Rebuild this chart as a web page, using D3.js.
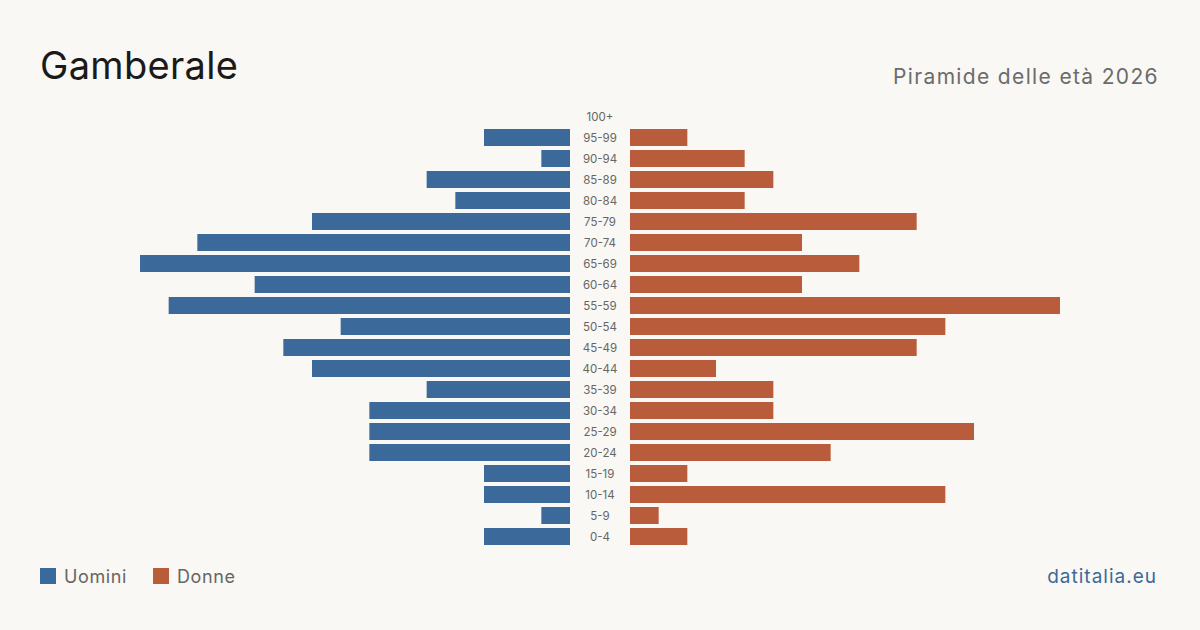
<!DOCTYPE html>
<html><head><meta charset="utf-8">
<script src="https://cdn.jsdelivr.net/npm/d3@7"></script>
<style>
html,body{margin:0;padding:0;background:#f9f8f4;}
svg{display:block;font-family:Inter,"Noto Sans",sans-serif;}
</style></head><body>
<svg id="c" width="1200" height="630"></svg>
<script>
const ageGroups = ["100+","95-99","90-94","85-89","80-84","75-79","70-74","65-69","60-64","55-59","50-54","45-49","40-44","35-39","30-34","25-29","20-24","15-19","10-14","5-9","0-4"];
const men   = [0,3,1,5,4,9,13,15,11,14,8,10,9,5,7,7,7,3,3,1,3];
const women = [0,2,4,5,4,10,6,8,6,15,11,10,3,5,5,12,7,2,11,1,2];
const seriesNames = ["Uomini","Donne"];
const colors = ["#3b6a9a","#b95c3b"];

const svg = d3.select("#c");
svg.append("rect").attr("width",1200).attr("height",630).attr("fill","#f9f8f4");

const maxV = 15;
const xL = d3.scaleLinear().domain([0,maxV]).range([570,140]);
const xR = d3.scaleLinear().domain([0,maxV]).range([630,1060]);
const y = d3.scaleBand().domain(ageGroups).range([106,547]).paddingInner(4/21).paddingOuter(2/21);

svg.append("g").selectAll("rect").data(ageGroups).join("rect")
  .attr("x",(d,i)=>xL(men[i])).attr("width",(d,i)=>xL(0)-xL(men[i]))
  .attr("y",d=>y(d)).attr("height",y.bandwidth()).attr("fill",colors[0]);
svg.append("g").selectAll("rect").data(ageGroups).join("rect")
  .attr("x",xR(0)).attr("width",(d,i)=>xR(women[i])-xR(0))
  .attr("y",d=>y(d)).attr("height",y.bandwidth()).attr("fill",colors[1]);

svg.append("g").selectAll("text").data(ageGroups).join("text")
  .attr("x",600).attr("y",d=>y(d)+y.bandwidth()/2).attr("dy","0.35em")
  .attr("text-anchor","middle").attr("font-size",11.5).attr("fill","#666").text(d=>d);

svg.append("text").attr("x",40).attr("y",79).attr("font-size",38).attr("letter-spacing","0.3px").attr("fill","#1a1a1a").text("Gamberale");
svg.append("text").attr("x",1159).attr("y",84).attr("text-anchor","end").attr("font-size",21).attr("letter-spacing","1.35px").attr("fill","#6b6b6b").text("Piramide delle età 2026");

const leg = svg.append("g");
const lx = [40,153];
seriesNames.forEach((n,i)=>{
  leg.append("rect").attr("x",lx[i]).attr("y",568).attr("width",16).attr("height",16).attr("fill",colors[i]);
  leg.append("text").attr("x",lx[i]+24).attr("y",583).attr("font-size",18).attr("letter-spacing","0.6px").attr("fill","#666").text(n);
});
svg.append("text").attr("x",1157).attr("y",583).attr("text-anchor","end").attr("font-size",19).attr("letter-spacing","1px").attr("fill","#3b6a9a").text("datitalia.eu");
</script></body></html>
